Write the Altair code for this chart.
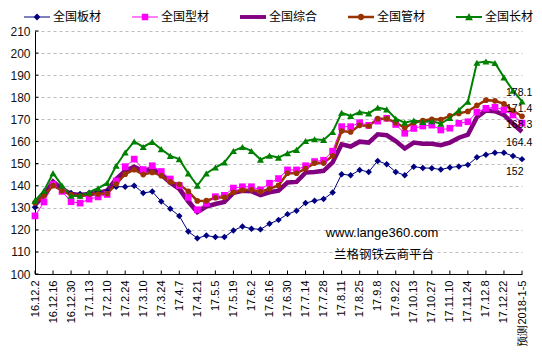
import altair as alt
import pandas as pd

# ---------------- data ----------------
x_labels = ["16.12.2", "16.12.16", "16.12.30", "17.1.13", "17.2.10", "17.2.24",
            "17.3.10", "17.3.24", "17.4.7", "17.4.21", "17.5.5", "17.5.19",
            "17.6.2", "17.6.16", "17.6.30", "17.7.14", "17.7.28", "17.8.11",
            "17.8.25", "17.9.8", "17.9.22", "17.10.13", "17.10.27", "17.11.10",
            "17.11.24", "17.12.8", "17.12.22", "预测2018-1-5"]

series_names = ["全国板材", "全国型材", "全国综合", "全国管材", "全国长材"]

plate = [130.2, 136.0, 141.0, 139.0, 136.7, 136.2, 136.7, 137.3, 137.5, 139.5,
         139.5, 140.0, 136.7, 137.3, 132.8, 129.5, 126.3, 119.2, 116.2, 117.4,
         116.7, 116.7, 119.7, 121.5, 120.5, 120.2, 122.7, 124.5, 127.1, 128.6,
         132.1, 133.2, 133.9, 136.9, 145.2, 144.7, 147.1, 146.2, 151.2, 149.7,
         146.2, 144.7, 148.6, 148.0, 147.9, 147.3, 148.2, 148.7, 149.4, 152.8,
         154.0, 154.9, 154.9, 153.4, 152.0]

section = [126.3, 132.6, 140.6, 137.4, 132.7, 132.1, 133.9, 134.9, 136.0, 142.1,
           148.6, 152.0, 147.3, 149.0, 146.4, 143.0, 140.1, 134.7, 129.1, 132.0,
           135.0, 135.6, 138.9, 139.5, 139.5, 138.1, 141.1, 143.2, 147.1, 147.1,
           149.0, 150.9, 151.5, 155.6, 166.7, 166.7, 168.5, 167.3, 169.2, 170.5,
           167.7, 163.7, 165.9, 167.0, 167.4, 165.2, 166.0, 168.2, 168.9, 173.3,
           175.0, 175.5, 174.3, 172.0, 168.3]

composite = [131.3, 135.5, 141.8, 138.5, 136.2, 135.8, 136.2, 136.7, 137.7, 143.0,
             146.7, 148.6, 146.6, 147.5, 145.0, 141.3, 138.5, 132.8, 128.0, 130.5,
             131.7, 132.6, 136.7, 137.7, 137.5, 135.7, 137.0, 137.7, 141.4, 141.7,
             145.9, 146.2, 146.7, 150.5, 158.7, 157.7, 159.9, 159.5, 163.2, 162.8,
             160.2, 156.8, 159.5, 159.0, 159.0, 158.3, 159.5, 161.7, 163.1, 171.0,
             174.0, 173.7, 172.0, 168.0, 164.4]

pipe = [132.2, 135.5, 140.0, 137.7, 135.9, 135.4, 136.2, 136.2, 136.4, 140.7,
        145.2, 147.2, 145.0, 146.0, 144.5, 141.7, 140.6, 137.4, 133.1, 133.2,
        134.5, 134.7, 137.0, 137.9, 138.1, 137.2, 138.6, 140.1, 145.6, 145.6,
        147.7, 150.2, 150.2, 153.5, 164.7, 164.3, 167.3, 167.0, 170.3, 170.3,
        168.5, 166.2, 168.5, 169.5, 170.0, 169.9, 171.6, 172.7, 173.6, 176.3,
        178.7, 178.4, 177.0, 174.0, 171.4]

long_steel = [133.2, 137.7, 145.6, 140.0, 135.4, 135.4, 137.0, 138.8, 141.2, 149.0,
              155.0, 160.0, 157.5, 159.8, 156.5, 153.5, 152.0, 145.5, 140.0, 145.5,
              148.2, 150.5, 155.7, 157.5, 155.7, 151.8, 153.6, 152.7, 154.7, 156.2,
              160.2, 161.0, 160.7, 164.3, 173.0, 171.5, 173.3, 172.7, 175.3, 174.5,
              170.3, 168.5, 169.5, 168.8, 169.2, 168.0, 170.6, 174.2, 178.0, 195.6,
              196.2, 195.5, 189.0, 183.0, 178.1]

y_ticks = list(range(100, 211, 10))
watermark = ["www.lange360.com", "兰格钢铁云商平台"]

# ---------------- styles ----------------
style = {
    "全国板材": dict(color="#000080", width=1, shape="diamond", size=42, dy=12.5,
                 legend="M-1,-0.04H1V0.04H-1Z M0,-0.27L0.27,0L0,0.27L-0.27,0Z"),
    "全国型材": dict(color="#FF00FF", width=1, shape="square", size=45, dy=2,
                 legend="M-1,-0.04H1V0.04H-1Z M-0.25,-0.25H0.25V0.25H-0.25Z"),
    "全国综合": dict(color="#800080", width=4.5, shape=None, size=0, dy=11,
                 legend="M-1,-0.15H1V0.15H-1Z"),
    "全国管材": dict(color="#993300", width=2.5, shape="circle", size=32, dy=-7,
                 legend="M-1,-0.1H1V0.1H-1Z M-0.25,0A0.25,0.25 0 1,1 0.25,0A0.25,0.25 0 1,1 -0.25,0Z"),
    "全国长材": dict(color="#008000", width=2, shape="triangle-up", size=50, dy=-8.5,
                 legend="M-1,-0.08H1V0.08H-1Z M0,-0.3L0.3,0.25H-0.3Z"),
}

arrays = [plate, section, composite, pipe, long_steel]
rows = []
for name, arr in zip(series_names, arrays):
    for i, v in enumerate(arr):
        rows.append({"series": name, "idx": i, "value": v})
df = pd.DataFrame(rows)
n_last = len(plate) - 1

tick_df = pd.DataFrame({"idx": [2 * k for k in range(len(x_labels))]})
ytick_df = pd.DataFrame({"value": y_ticks})

label_expr = "[" + ",".join("'%s'" % s for s in x_labels) + "][round(datum.value / 2)]"

xscale = alt.Scale(domain=[0, n_last], nice=False, zero=False)
yscale = alt.Scale(domain=[100, 210], nice=False, zero=False)

x_axis = alt.Axis(title=None, values=[2 * k for k in range(len(x_labels))],
                  labelExpr=label_expr, labelAngle=270, labelPadding=6,
                  labelFont="Liberation Sans", labelFontSize=11, labelColor="#000000",
                  labelOverlap=False, labelFlush=False, labelBound=False,
                  ticks=False, grid=False, domainColor="#000000", domainWidth=1)
y_axis = alt.Axis(title=None, values=y_ticks, labelPadding=5,
                  labelFont="Liberation Sans", labelFontSize=12, labelColor="#111111",
                  ticks=False, grid=True, gridDash=[3, 3], gridColor="#bdbdbd",
                  gridWidth=1, domainColor="#000000", domainWidth=1)

X = alt.X("idx:Q", scale=xscale, axis=x_axis)
Y = alt.Y("value:Q", scale=yscale, axis=y_axis)

layers = []

# lines
for name in series_names:
    st = style[name]
    layers.append(
        alt.Chart(df[df.series == name]).mark_line(
            color=st["color"], strokeWidth=st["width"], interpolate="linear"
        ).encode(x=X, y=Y)
    )

# markers
for name in series_names:
    st = style[name]
    if st["shape"] is None:
        continue
    layers.append(
        alt.Chart(df[df.series == name]).mark_point(
            shape=st["shape"], size=st["size"], filled=True, color=st["color"], opacity=1
        ).encode(x=X, y=Y)
    )

# inside tick marks
layers.append(alt.Chart(tick_df).mark_rule(color="#000000", strokeWidth=1).encode(
    x=X, y=alt.value(243), y2=alt.value(239.5)))
layers.append(alt.Chart(ytick_df).mark_rule(color="#000000", strokeWidth=1).encode(
    y=Y, x=alt.value(0), x2=alt.value(3.5)))

# end value labels
for name in series_names:
    st = style[name]
    layers.append(
        alt.Chart(df[(df.series == name) & (df.idx == n_last)]).mark_text(
            align="left", baseline="middle", dx=-16, dy=st["dy"],
            font="Liberation Sans", fontSize=10.5, color="#000000"
        ).encode(x=X, y=Y, text=alt.Text("value:Q", format=".6~g"))
    )

# watermark
wm_df = pd.DataFrame({"t": watermark, "k": [0, 1]})
layers.append(alt.Chart(wm_df[wm_df.k == 0]).mark_text(
    font="Liberation Sans", fontSize=13, color="#000000", align="center", baseline="middle"
).encode(text="t:N", x=alt.value(347), y=alt.value(202)))
layers.append(alt.Chart(wm_df[wm_df.k == 1]).mark_text(
    font="Noto Sans CJK SC", fontSize=12.5, color="#000000", align="center", baseline="middle"
).encode(text="t:N", x=alt.value(349), y=alt.value(224)))

# legend layer (no visible marks)
leg = alt.Legend(title=None, orient="none", legendX=-11, legendY=-27,
                 direction="horizontal", columns=5, symbolSize=676,
                 symbolStrokeWidth=0, symbolOpacity=1,
                 labelFont="Noto Sans CJK SC", labelFontSize=12, labelColor="#000000",
                 labelOffset=3, columnPadding=30, padding=0)
layers.append(
    alt.Chart(df).mark_point(filled=True, opacity=1).encode(
        color=alt.Color("series:N",
                        scale=alt.Scale(domain=series_names,
                                        range=[style[s]["color"] for s in series_names]),
                        legend=leg),
        shape=alt.Shape("series:N",
                        scale=alt.Scale(domain=series_names,
                                        range=[style[s]["legend"] for s in series_names]),
                        legend=leg),
    ).transform_filter("false")
)

chart = alt.layer(*layers).properties(
    width=487, height=243,
    autosize=alt.AutoSizeParams(type="none"),
    padding={"left": 27, "top": 23, "right": 12, "bottom": 72},
    background="#ffffff",
).configure_view(stroke=None)

chart.save("out.html", embed_options={"renderer": "svg", "actions": False})
